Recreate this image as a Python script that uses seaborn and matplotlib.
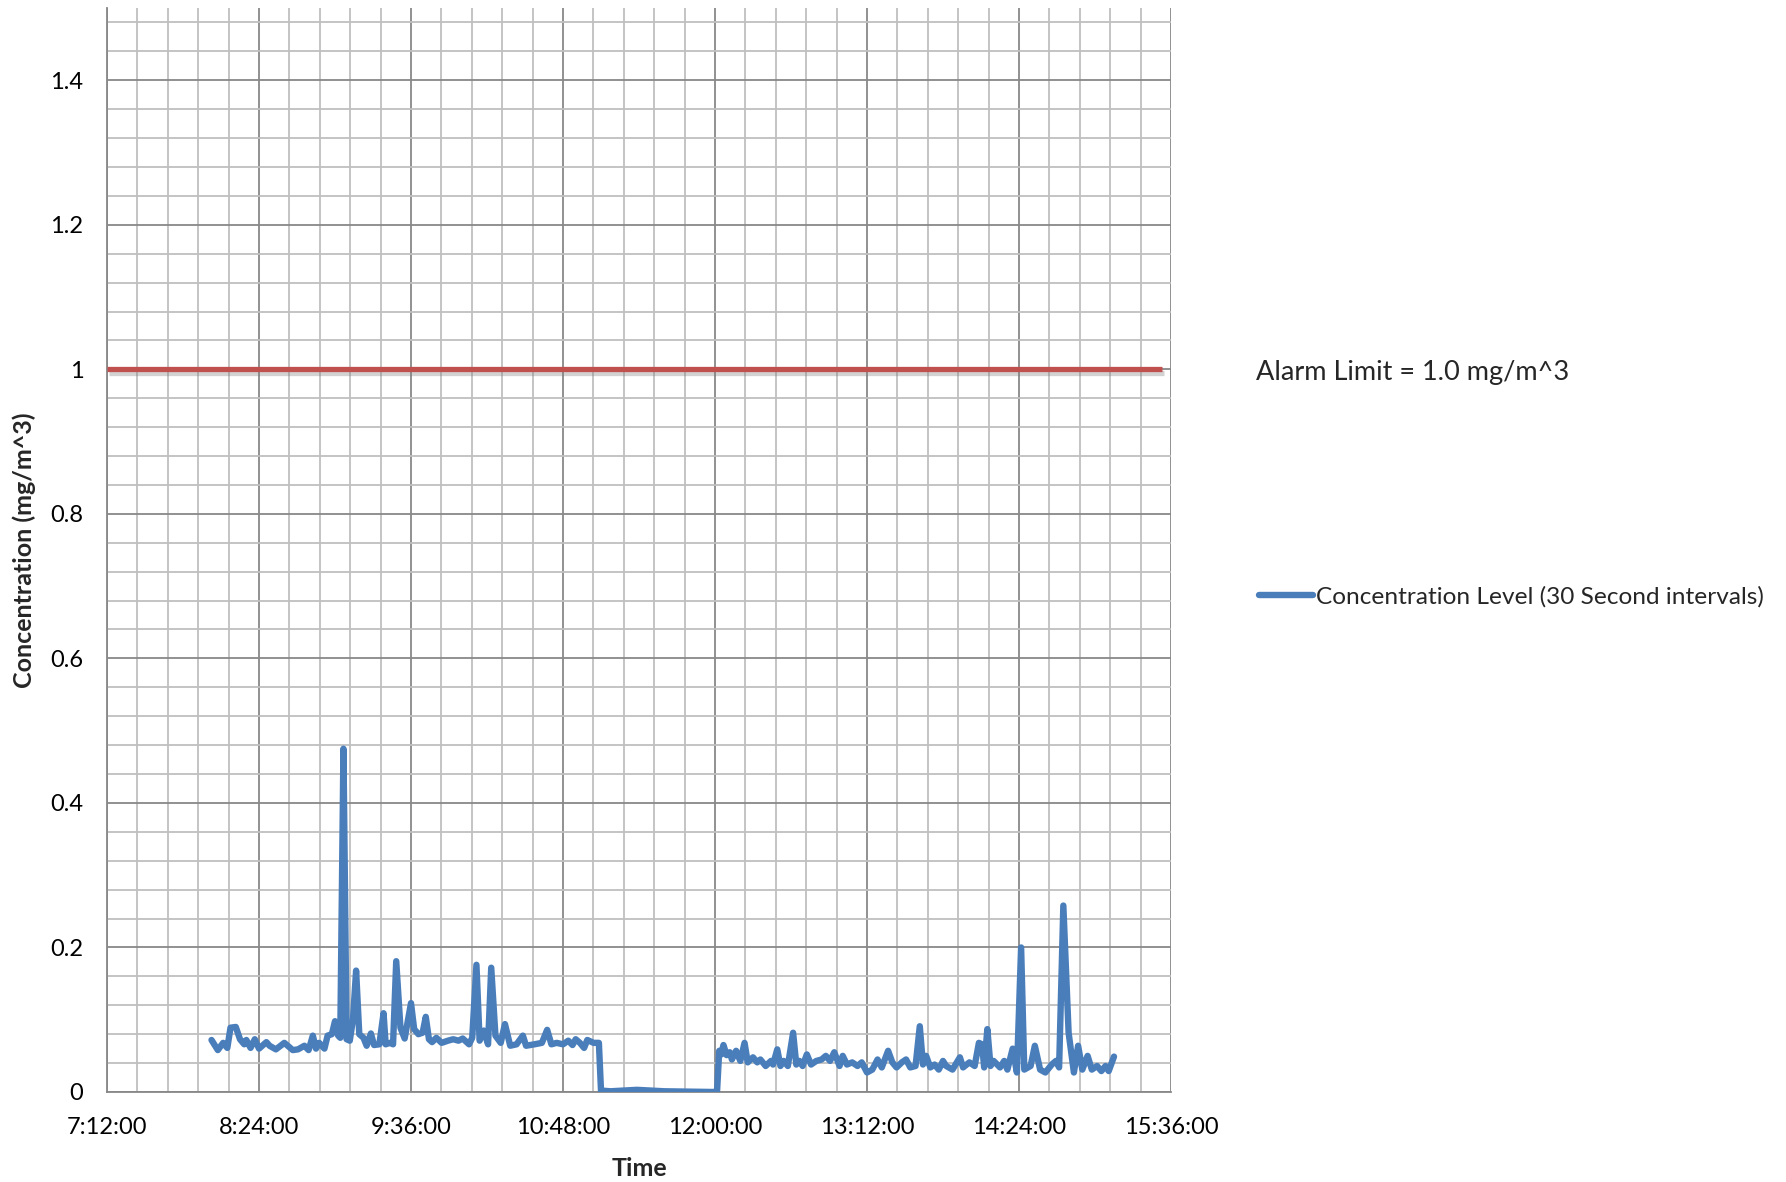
import matplotlib
matplotlib.use("Agg")
import matplotlib.pyplot as plt
import matplotlib.patheffects as pe
from matplotlib.ticker import MultipleLocator, FuncFormatter
from matplotlib.lines import Line2D
import seaborn as sns
import pandas as pd

# ---- data (time in minutes after midnight, 30 s resolution; concentration mg/m^3)
time_min = [
    481.5, 484.5, 487.0, 489.0, 490.5, 493.0, 495.0, 497.0, 498.0, 500.0,
    502.0, 504.0, 507.5, 509.0, 512.0, 516.0, 520.0, 522.5, 525.5, 527.5,
    529.5, 531.0, 532.5, 535.0, 536.5, 538.5, 540.0, 541.5, 542.5, 544.0,
    545.5, 547.0, 548.5, 550.0, 551.5, 553.5, 555.0, 557.0, 558.5, 561.0,
    563.0, 564.0, 566.0, 567.5, 569.0, 571.0, 573.0, 576.0, 577.5, 579.5,
    581.5, 583.0, 584.5, 586.0, 588.0, 590.5, 593.5, 596.0, 598.5, 600.5,
    603.5, 605.0, 607.0, 608.5, 610.5, 612.5, 614.0, 616.0, 618.5, 620.5,
    623.0, 626.0, 629.0, 630.5, 634.5, 638.0, 640.5, 642.5, 645.0, 648.0,
    650.5, 652.5, 654.0, 656.0, 658.0, 659.5, 662.5, 665.0, 666.0, 670.5,
    683.0, 696.0, 719.5, 721.0, 722.0, 723.0, 724.0, 725.5, 727.0, 728.0,
    730.0, 732.0, 734.0, 735.5, 738.0, 740.0, 741.5, 744.0, 746.5, 747.5,
    749.5, 751.0, 752.5, 754.5, 757.0, 758.5, 760.0, 761.5, 763.5, 765.5,
    768.0, 770.5, 772.5, 774.5, 776.5, 779.0, 780.5, 782.5, 785.0, 787.5,
    789.5, 792.0, 794.5, 797.0, 799.0, 802.0, 804.0, 806.0, 808.5, 810.5,
    812.5, 815.0, 817.0, 818.5, 820.0, 822.0, 824.0, 826.0, 828.0, 829.5,
    832.5, 836.0, 837.5, 840.5, 843.0, 845.0, 846.5, 847.5, 849.0, 850.5,
    852.0, 855.0, 857.0, 858.5, 861.0, 863.0, 865.0, 866.5, 869.5, 871.5,
    874.0, 876.5, 879.5, 881.5, 883.0, 885.0, 887.5, 890.0, 892.0, 894.0,
    896.5, 898.5, 901.0, 903.0, 905.0, 906.5, 909.0,
]
concentration = [
    0.072, 0.058, 0.068, 0.061, 0.089, 0.090, 0.073, 0.066, 0.072, 0.061,
    0.073, 0.060, 0.069, 0.064, 0.059, 0.068, 0.058, 0.059, 0.064, 0.058,
    0.078, 0.060, 0.068, 0.060, 0.078, 0.080, 0.098, 0.078, 0.075, 0.475,
    0.073, 0.071, 0.100, 0.168, 0.080, 0.075, 0.064, 0.081, 0.065, 0.066,
    0.109, 0.066, 0.068, 0.066, 0.181, 0.089, 0.074, 0.123, 0.087, 0.080,
    0.082, 0.104, 0.073, 0.069, 0.075, 0.068, 0.071, 0.073, 0.071, 0.074,
    0.066, 0.075, 0.176, 0.071, 0.085, 0.066, 0.172, 0.078, 0.068, 0.094,
    0.064, 0.066, 0.078, 0.064, 0.066, 0.068, 0.086, 0.066, 0.068, 0.066,
    0.071, 0.065, 0.073, 0.068, 0.061, 0.072, 0.068, 0.068, 0.002, 0.001,
    0.003, 0.001, 0.000, 0.002, 0.057, 0.052, 0.065, 0.051, 0.055, 0.045,
    0.057, 0.043, 0.068, 0.041, 0.048, 0.041, 0.045, 0.036, 0.043, 0.038,
    0.059, 0.036, 0.043, 0.036, 0.082, 0.038, 0.043, 0.036, 0.052, 0.038,
    0.043, 0.045, 0.050, 0.043, 0.055, 0.036, 0.050, 0.038, 0.041, 0.036,
    0.041, 0.027, 0.031, 0.045, 0.034, 0.057, 0.041, 0.034, 0.041, 0.045,
    0.034, 0.036, 0.091, 0.038, 0.050, 0.034, 0.038, 0.031, 0.043, 0.036,
    0.031, 0.048, 0.034, 0.041, 0.036, 0.068, 0.066, 0.034, 0.087, 0.036,
    0.043, 0.034, 0.043, 0.031, 0.060, 0.027, 0.200, 0.031, 0.036, 0.064,
    0.031, 0.027, 0.038, 0.043, 0.034, 0.258, 0.082, 0.027, 0.064, 0.031,
    0.050, 0.031, 0.036, 0.029, 0.036, 0.029, 0.049,
]
alarm_time_min = [432.0, 931.5]
alarm_values = [1.0, 1.0]

series_label = "Concentration Level (30 Second intervals)"
alarm_label = "Alarm Limit = 1.0 mg/m^3"
x_label = "Time"
y_label = "Concentration (mg/m^3)"

# ---- style
sns.set_style("white")
plt.rcParams["font.family"] = ["Lato", "DejaVu Sans"]

W, H = 1786, 1182
fig = plt.figure(figsize=(W / 100, H / 100), dpi=100)
ax = fig.add_axes([107 / W, 1 - 1092 / H, (1171 - 107) / W, (1092 - 8) / H])

df = pd.DataFrame({"t": time_min, "c": concentration})
adf = pd.DataFrame({"t": alarm_time_min, "c": alarm_values})

sns.lineplot(
    data=adf, x="t", y="c", ax=ax, color="#C0504D", linewidth=3.8,
    solid_capstyle="butt", zorder=3,
    path_effects=[pe.SimpleLineShadow(offset=(1.5, -2.5), shadow_color="#7f7f7f", alpha=0.35),
                  pe.Normal()],
)
sns.lineplot(
    data=df, x="t", y="c", ax=ax, color="#4A7EBB", linewidth=4.6,
    solid_joinstyle="round", solid_capstyle="round", zorder=4,
)

ax.set_xlim(432, 936)
ax.set_ylim(0, 1.5)
ax.xaxis.set_major_locator(MultipleLocator(72))
ax.xaxis.set_minor_locator(MultipleLocator(14.4))
ax.yaxis.set_major_locator(MultipleLocator(0.2))
ax.yaxis.set_minor_locator(MultipleLocator(0.04))


def fmt_time(v, pos):
    m = int(round(v))
    return f"{m // 60}:{m % 60:02d}:00"


ax.xaxis.set_major_formatter(FuncFormatter(fmt_time))
ax.yaxis.set_major_formatter(FuncFormatter(lambda v, p: f"{round(v, 2):g}"))

ax.set_axisbelow(True)
ax.grid(which="minor", color="#BFBFBF", linewidth=1.3)
ax.grid(which="major", color="#888888", linewidth=1.3)

for s in ["top", "right"]:
    ax.spines[s].set_visible(False)
for s in ["left", "bottom"]:
    ax.spines[s].set_color("#888888")
    ax.spines[s].set_linewidth(1.3)

ax.tick_params(axis="both", which="major", direction="out", length=6, width=1.3,
               color="#888888", labelsize=17, labelcolor="black")
ax.tick_params(axis="y", which="major", pad=11)
ax.tick_params(axis="x", which="major", pad=12)
ax.tick_params(which="minor", length=0)

ax.set_xlabel(x_label, fontsize=18, fontweight="bold", labelpad=14)
ax.set_ylabel(y_label, fontsize=18, fontweight="bold", labelpad=10)

leg = ax.get_legend()
if leg is not None:
    leg.remove()

h = Line2D([], [], color="#4A7EBB", linewidth=4.6, solid_capstyle="round")
fig.legend([h], [series_label], loc="center left",
           bbox_to_anchor=(1259 / W, 1 - 597 / H), frameon=False,
           fontsize=17.6, handlelength=2.2, handletextpad=0.15,
           borderpad=0, borderaxespad=0)
fig.text(1256 / W, 1 - 372 / H, alarm_label, fontsize=19.5, va="center", ha="left")

fig.savefig("out.png", dpi=100, facecolor="white")
